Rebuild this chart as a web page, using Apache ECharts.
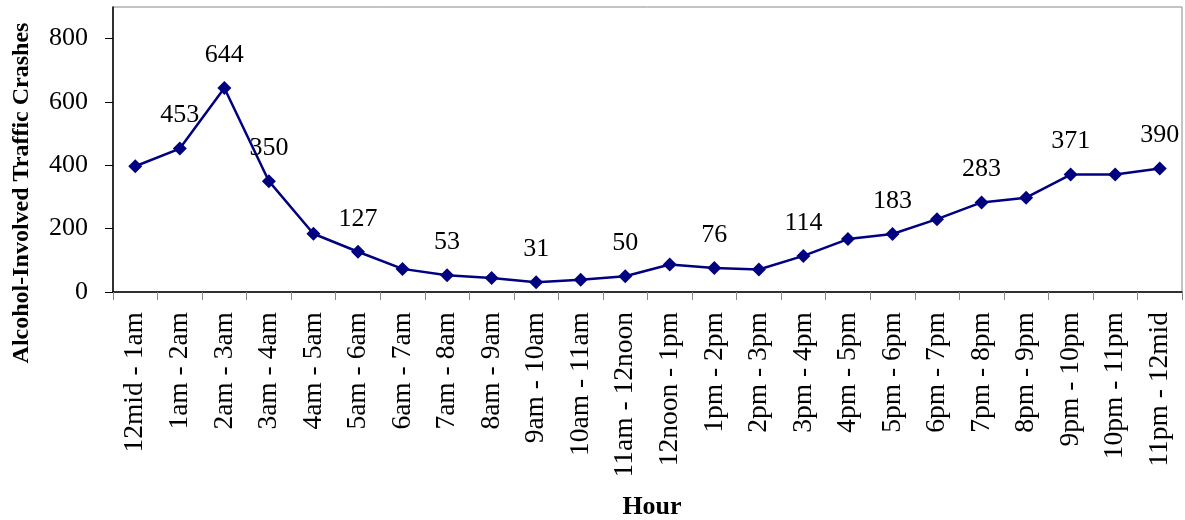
<!DOCTYPE html>
<html>
<head>
<meta charset="utf-8">
<script src="https://cdn.jsdelivr.net/npm/echarts@6/dist/echarts.min.js"></script>
<style>
  html, body { margin: 0; padding: 0; background: #fff; }
  #chart { width: 1185px; height: 520px; }
</style>
</head>
<body>
<div id="chart"></div>
<script>
// hour ranges on the x axis
var hours = ['12mid - 1am', '1am - 2am', '2am - 3am', '3am - 4am', '4am - 5am', '5am - 6am',
  '6am - 7am', '7am - 8am', '8am - 9am', '9am - 10am', '10am - 11am', '11am - 12noon',
  '12noon - 1pm', '1pm - 2pm', '2pm - 3pm', '3pm - 4pm', '4pm - 5pm', '5pm - 6pm',
  '6pm - 7pm', '7pm - 8pm', '8pm - 9pm', '9pm - 10pm', '10pm - 11pm', '11pm - 12mid'];
// crashes per hour
var crashes = [397, 453, 644, 350, 184, 127, 73, 53, 44, 31, 39, 50,
  87, 76, 71, 114, 167, 183, 230, 283, 298, 371, 371, 390];
// which points carry a value label
var labelled = [1, 2, 3, 5, 7, 9, 11, 13, 15, 17, 19, 21, 23];
var yTicks = [0, 200, 400, 600, 800];

var font = '"Liberation Serif", "Times New Roman", serif';

var seriesData = crashes.map(function (v, i) {
  return {
    value: v,
    label: { show: labelled.indexOf(i) >= 0 }
  };
});

var chart = echarts.init(document.getElementById('chart'));
chart.setOption({
  animation: false,
  grid: {
    left: 113, right: 3, top: 7, bottom: 228,
    show: true, borderColor: '#888', borderWidth: 1
  },
  xAxis: {
    type: 'category',
    data: hours,
    boundaryGap: true,
    axisLine: { lineStyle: { color: '#000', width: 1.5 } },
    axisTick: { show: true, length: 8, lineStyle: { color: '#888' } },
    axisLabel: {
      rotate: 90, margin: 20, color: '#000',
      fontFamily: font, fontSize: 27.5, interval: 0
    }
  },
  yAxis: {
    type: 'value',
    min: 0, max: 900, interval: 100,
    splitLine: { show: false },
    axisLine: { show: true, lineStyle: { color: '#000', width: 1.5 } },
    axisTick: { show: true, length: 8, customValues: yTicks, lineStyle: { color: '#000' } },
    axisLabel: {
      customValues: yTicks, margin: 25, color: '#000',
      fontFamily: font, fontSize: 26
    }
  },
  series: [{
    type: 'line',
    data: seriesData,
    symbol: 'diamond',
    symbolSize: 14,
    lineStyle: { color: '#000080', width: 2.5 },
    itemStyle: { color: '#000080' },
    label: {
      position: 'top', distance: 13, color: '#000',
      fontFamily: font, fontSize: 26
    }
  }],
  graphic: [
    {
      type: 'text', x: 22, y: 193, rotation: Math.PI / 2,
      style: {
        text: 'Alcohol-Involved Traffic Crashes', fill: '#000',
        font: 'bold 24px ' + font, align: 'center', verticalAlign: 'middle'
      }
    },
    {
      type: 'text', x: 652, y: 507,
      style: {
        text: 'Hour', fill: '#000',
        font: 'bold 26px ' + font, align: 'center', verticalAlign: 'middle'
      }
    }
  ]
});
</script>
</body>
</html>
